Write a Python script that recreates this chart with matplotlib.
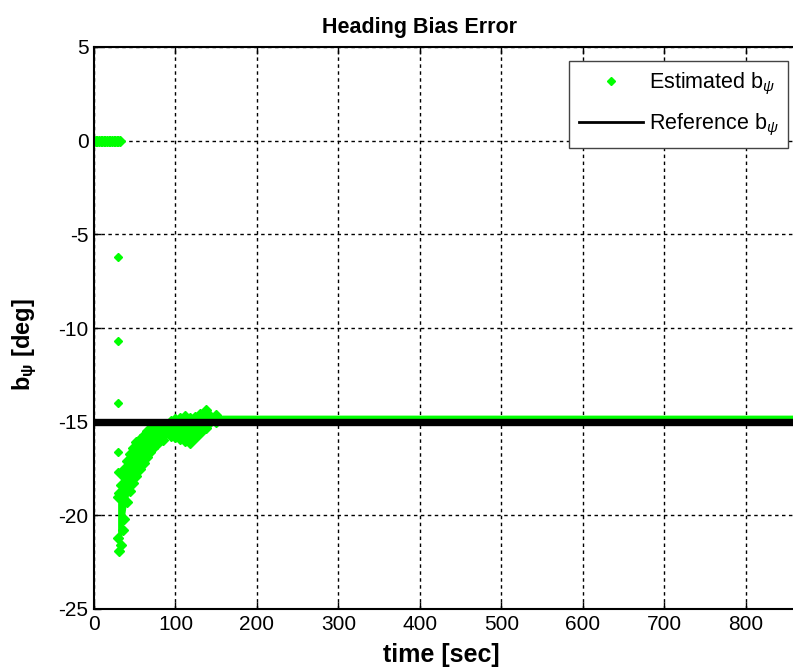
import matplotlib
matplotlib.use('Agg')
import matplotlib.pyplot as plt
from matplotlib.lines import Line2D

plt.rcParams['font.family'] = ['Liberation Sans', 'DejaVu Sans']
plt.rcParams['axes.unicode_minus'] = False
plt.rcParams['mathtext.fontset'] = 'custom'
plt.rcParams['mathtext.rm'] = 'Liberation Sans'
plt.rcParams['mathtext.it'] = 'Liberation Sans:italic'
plt.rcParams['mathtext.bf'] = 'Liberation Sans:bold'

# filter output before convergence (held at zero)
t_hold = [0, 2, 4, 6, 8, 10, 12, 14, 16, 18, 20, 22, 24, 26, 28, 30, 32]
b_hold = [0, 0, 0, 0, 0, 0, 0, 0, 0, 0, 0, 0, 0, 0, 0, 0, 0]

# first samples after start of estimation
t_jump = [30, 30, 30, 30, 30]
b_jump = [-6.2, -10.7, -14.0, -16.6, -17.7]

# envelope of the estimated bias band
t_env = [29, 31, 33, 35, 37, 40, 44, 48, 52, 56, 61, 65, 69, 73, 77, 85,
         94, 100, 106, 112, 118, 124, 130, 137, 140, 150, 900]
b_upper = [-19.0, -18.8, -18.4, -17.9, -17.5, -17.1, -16.7, -16.4, -16.1,
           -15.9, -15.7, -15.5, -15.4, -15.3, -15.2, -15.1, -14.95, -14.85,
           -14.8, -14.7, -14.8, -14.75, -14.6, -14.4, -14.6, -14.65, -14.65]
b_lower = [-21.2, -21.9, -21.6, -20.8, -20.2, -19.3, -18.7, -18.3, -17.9,
           -17.5, -17.2, -16.9, -16.6, -16.4, -16.2, -16.0, -15.75, -15.8,
           -15.95, -16.05, -16.15, -15.85, -15.6, -15.35, -15.1, -15.0, -15.0]

b_ref = -15.0
green = '#00ff00'

fig = plt.figure(figsize=(7.93, 6.72), dpi=100)
ax = fig.add_axes([94/793, 63/672, 733/793, 562/672])

ax.fill_between(t_env, b_upper, b_lower, color=green, lw=0, zorder=2)
ax.plot(t_env, b_upper, 'D', color=green, ms=5, zorder=2)
ax.plot(t_env, b_lower, 'D', color=green, ms=5, zorder=2)
ax.plot(t_hold, b_hold, 'D', color=green, ms=5.5, zorder=2)
ax.plot(t_jump, b_jump, 'D', color=green, ms=4.5, zorder=2)
ax.axhline(b_ref, color='black', lw=5.3, zorder=3)

ax.set_xlim(0, 900)
ax.set_ylim(-25, 5)
ax.set_xticks(range(0, 801, 100))
ax.set_yticks(range(-25, 6, 5))
ax.grid(True, color='black', linestyle=(0, (2.5, 2.5)), lw=1)
ax.tick_params(direction='in', top=True, right=True, length=5, width=1,
               labelsize=15, pad=4)
for s in ax.spines.values():
    s.set_linewidth(1.5)

ax.set_title('Heading Bias Error', fontsize=15.5, fontweight='bold', pad=10,
             x=(420 - 94) / 733)
ax.set_xlabel('time [sec]', fontsize=18, fontweight='bold', labelpad=7,
              x=(441 - 94) / 733)
ax.set_ylabel(r'b$_\mathbf{\psi}$ [deg]', fontsize=17, fontweight='bold',
              labelpad=14, y=0.47)

handles = [Line2D([], [], ls='none', marker='D', color=green, ms=4),
           Line2D([], [], color='black', lw=2)]
ax.legend(handles, [r'Estimated b$_\psi$', r'Reference b$_\psi$'],
          loc='upper left', bbox_to_anchor=(569/793, 1 - 61/672),
          bbox_transform=fig.transFigure, fontsize=15.5, fancybox=False,
          edgecolor='#444444', framealpha=1, borderaxespad=0,
          handlelength=3.0, handletextpad=0.25, labelspacing=0.7,
          borderpad=0.45)

fig.savefig('out.png', dpi=100)
